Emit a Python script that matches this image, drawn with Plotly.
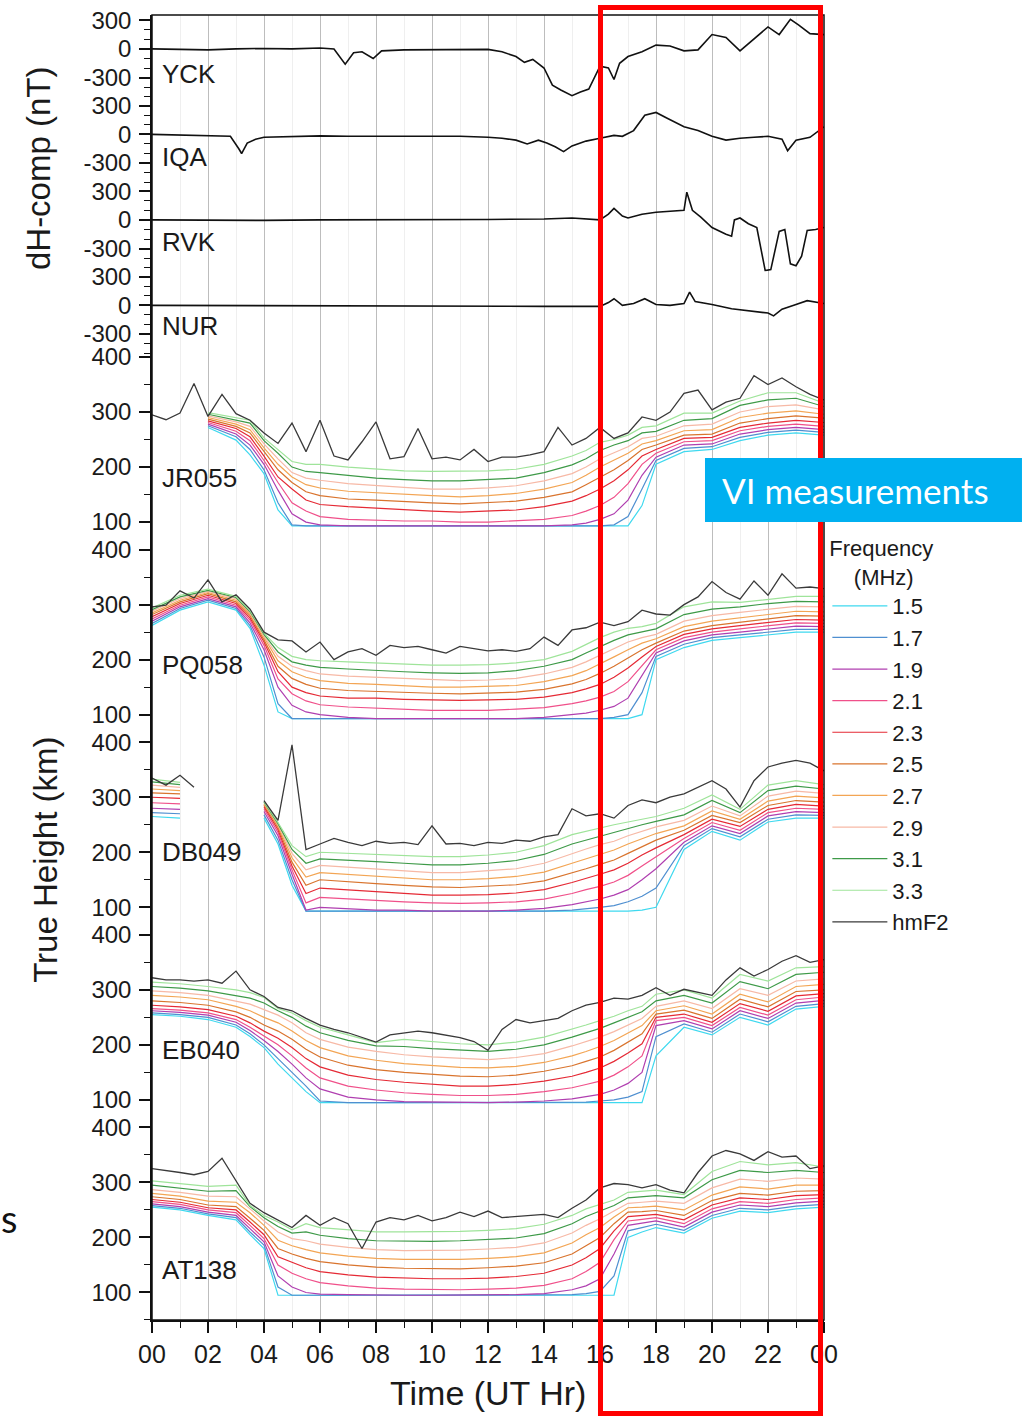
import plotly.graph_objects as go

FONT = "Liberation Sans, Arial, sans-serif"

# ---------------- time axes ----------------
IONO_HOURS = [0, 1, 2, 3, 3.5, 4, 4.5, 5, 5.5, 6, 7, 8, 9, 10, 11, 12, 13, 14, 15,
              15.5, 16, 16.5, 17, 17.5, 18, 19, 20, 21, 22, 23, 24]
HMF2_HOURS = [0, 0.5, 1, 1.5, 2, 2.5, 3, 3.5, 4, 4.5, 5, 5.5, 6, 6.5, 7, 7.5, 8, 8.5,
              9, 9.5, 10, 10.5, 11, 11.5, 12, 12.5, 13, 13.5, 14, 14.5, 15, 15.5, 16,
              16.5, 17, 17.5, 18, 18.5, 19, 19.5, 20, 20.5, 21, 21.5, 22, 22.5, 23,
              23.5, 24]
X_TICK_VALUES = [0, 2, 4, 6, 8, 10, 12, 14, 16, 18, 20, 22, 24]
X_TICK_LABELS = ["00", "02", "04", "06", "08", "10", "12", "14", "16", "18", "20", "22", "00"]
X_MINOR_TICKS = [1, 3, 5, 7, 9, 11, 13, 15, 17, 19, 21, 23]

MAG_TICK_VALUES = [-300, 0, 300]
MAG_TICK_LABELS = ["-300", "0", "300"]
MAG_MINOR_TICKS = [-500, -400, -200, -100, 100, 200]
HEIGHT_TICK_VALUES = [100, 200, 300, 400]
HEIGHT_TICK_LABELS = ["100", "200", "300", "400"]
HEIGHT_MINOR_TICKS = [50, 150, 250, 350]

FREQ_LABELS = ["1.5", "1.7", "1.9", "2.1", "2.3", "2.5", "2.7", "2.9", "3.1", "3.3"]
FREQ_COLORS = ["#3fd9ef", "#4f8fd0", "#b03fb0", "#f0508a", "#e52a35",
               "#d9742e", "#f3a554", "#f7b9a6", "#3e9a48", "#9fe49a"]

# ---------------- magnetometer dH (nT) ----------------
YCK_HOURS = [0, 1, 2, 3, 4, 5, 6, 6.5, 6.9, 7.2, 7.5, 7.9, 8.2, 9, 10, 11, 12, 12.5, 13,
             13.3, 13.6, 14, 14.3, 14.6, 15, 15.3, 15.6, 16, 16.3, 16.5, 16.7, 17, 17.5,
             18, 18.5, 19, 19.5, 20, 20.5, 21, 21.5, 22, 22.4, 22.8, 23.1, 23.5, 24]
YCK_DH = [0, -5, -10, 0, 5, 0, 10, 0, -160, -40, -30, -100, -20, -10, -10, -5, -5, -30,
          -80, -140, -110, -200, -380, -430, -490, -450, -420, -180, -200, -320, -150,
          -80, -30, 40, 30, -20, -10, 150, 120, -20, 100, 230, 150, 310, 250, 160, 150]

IQA_HOURS = [0, 1, 2, 2.8, 3.1, 3.2, 3.4, 3.7, 4, 5, 6, 7, 8, 9, 10, 11, 12, 12.5, 13,
             13.4, 13.8, 14.1, 14.4, 14.7, 15, 15.5, 16, 16.5, 16.8, 17.2, 17.6, 18, 18.4,
             19, 19.5, 20, 20.5, 21, 21.5, 22, 22.5, 22.7, 23, 23.5, 24]
IQA_DH = [0, -5, -10, -20, -150, -200, -90, -50, -30, -20, -15, -20, -20, -25, -20, -20,
          -30, -40, -60, -100, -60, -90, -130, -180, -120, -70, -40, -10, -20, 40, 200,
          230, 170, 80, 40, -20, -60, -40, -30, -20, -50, -170, -60, -30, 80]

RVK_HOURS = [0, 2, 4, 6, 8, 10, 12, 14, 15, 16, 16.3, 16.5, 16.8, 17, 17.5, 18, 18.5, 19,
             19.1, 19.3, 19.6, 20, 20.5, 20.7, 20.8, 21, 21.3, 21.6, 21.9, 22.1, 22.4,
             22.6, 22.8, 23, 23.2, 23.4, 23.7, 24]
RVK_DH = [0, -5, -5, 0, 0, 0, 5, 10, 20, 0, 60, 120, 40, 20, 60, 80, 90, 100, 290, 100,
          30, -80, -150, -170, 0, 20, -40, -80, -530, -520, -120, -100, -460, -480, -380,
          -110, -100, -80]

NUR_HOURS = [0, 4, 8, 12, 14, 16, 16.3, 16.5, 16.8, 17.2, 17.6, 18, 18.5, 19, 19.2, 19.4,
             20, 20.7, 21.5, 22, 22.2, 22.5, 23, 23.4, 24]
NUR_DH = [0, -5, -10, -10, -10, -10, 30, 70, 0, 20, 70, 10, 0, 20, 140, 40, 10, -35, -60,
          -80, -110, -40, 10, 50, 20]

# ---------------- ionosonde true heights (km) ----------------
# one row per entry of IONO_HOURS, values for 1.5 ... 3.3 MHz (None = no data)
JR055_PROFILES = [
    None,
    None,
    [272, 275, 278, 281, 284, 287, 290, 293, 296, 299],
    [249, 255, 260, 265, 270, 274, 278, 282, 286, 290],
    [222, 232, 240, 248, 255, 262, 268, 274, 280, 285],
    [188, 195, 205, 212, 220, 228, 235, 242, 248, 253],
    [122, 135, 158, 172, 182, 195, 205, 215, 225, 232],
    [93, 95, 115, 135, 160, 172, 182, 190, 200, 210],
    [93, 93, 100, 120, 140, 155, 168, 180, 192, 205],
    [93, 93, 95, 110, 132, 148, 162, 176, 190, 205],
    [93, 93, 93, 105, 128, 142, 156, 170, 185, 200],
    [93, 93, 93, 103, 125, 140, 153, 166, 180, 196],
    [93, 93, 93, 102, 122, 137, 150, 163, 177, 193],
    [93, 93, 93, 102, 120, 135, 148, 160, 175, 192],
    [93, 93, 93, 100, 118, 133, 146, 160, 175, 192],
    [93, 93, 93, 100, 120, 135, 148, 162, 177, 193],
    [93, 93, 93, 102, 122, 138, 152, 166, 180, 196],
    [93, 93, 93, 105, 128, 145, 160, 175, 190, 205],
    [93, 93, 95, 112, 138, 155, 172, 188, 204, 220],
    [93, 93, 98, 120, 148, 168, 185, 200, 215, 230],
    [93, 93, 105, 130, 160, 182, 200, 215, 230, 245],
    [93, 95, 115, 145, 175, 195, 212, 226, 240, 250],
    [93, 110, 140, 170, 195, 212, 225, 237, 248, 258],
    [130, 160, 185, 205, 220, 232, 242, 252, 262, 272],
    [205, 212, 218, 225, 232, 240, 248, 256, 265, 275],
    [228, 234, 240, 246, 252, 258, 266, 275, 285, 298],
    [232, 237, 242, 248, 254, 260, 268, 278, 288, 298],
    [248, 254, 260, 266, 272, 280, 290, 300, 312, 320],
    [258, 263, 268, 274, 280, 288, 298, 310, 322, 335],
    [262, 267, 272, 278, 285, 293, 302, 313, 325, 335],
    [258, 263, 268, 274, 281, 289, 296, 304, 310, 316],
]
JR055_HMF2 = [295, 286, 298, 352, 292, 332, 297, 285, 262, 243, 280, 228, 285, 220, 213,
              246, 282, 215, 219, 270, 215, 218, 213, 232, 210, 218, 218, 222, 228, 272,
              240, 252, 272, 252, 262, 291, 285, 300, 334, 340, 304, 318, 325, 366, 350,
              362, 346, 332, 322]

PQ058_PROFILES = [
    [262, 266, 270, 274, 278, 282, 285, 288, 291, 294],
    [290, 293, 296, 299, 302, 305, 308, 311, 314, 317],
    [305, 308, 311, 314, 317, 320, 322, 324, 326, 328],
    [290, 293, 296, 299, 302, 305, 308, 311, 313, 315],
    [257, 262, 267, 272, 276, 280, 283, 285, 287, 289],
    [190, 205, 218, 226, 232, 236, 240, 243, 246, 248],
    [105, 120, 150, 165, 178, 188, 198, 206, 214, 222],
    [93, 93, 117, 138, 150, 166, 178, 188, 196, 206],
    [93, 93, 105, 125, 140, 155, 168, 180, 190, 200],
    [93, 93, 100, 118, 134, 148, 162, 174, 186, 198],
    [93, 93, 95, 114, 130, 144, 157, 170, 183, 196],
    [93, 93, 93, 112, 130, 142, 155, 168, 180, 194],
    [93, 93, 93, 110, 128, 140, 152, 165, 178, 192],
    [93, 93, 93, 108, 127, 139, 150, 163, 176, 190],
    [93, 93, 93, 108, 126, 138, 150, 162, 175, 190],
    [93, 93, 93, 108, 127, 139, 151, 163, 176, 191],
    [93, 93, 93, 110, 128, 141, 153, 166, 180, 194],
    [93, 93, 95, 113, 132, 146, 160, 174, 188, 200],
    [93, 93, 100, 120, 140, 156, 171, 186, 200, 215],
    [93, 93, 103, 125, 147, 164, 180, 196, 212, 228],
    [93, 93, 108, 132, 155, 175, 192, 208, 224, 240],
    [93, 95, 115, 142, 168, 188, 205, 220, 235, 250],
    [93, 100, 130, 160, 185, 203, 218, 232, 245, 257],
    [100, 140, 170, 190, 205, 218, 230, 240, 250, 260],
    [200, 206, 212, 218, 224, 230, 238, 246, 256, 266],
    [222, 228, 234, 240, 246, 252, 260, 270, 282, 296],
    [235, 240, 245, 250, 256, 262, 270, 280, 292, 305],
    [240, 245, 250, 256, 262, 268, 276, 286, 296, 304],
    [245, 250, 256, 262, 268, 275, 283, 292, 302, 310],
    [250, 255, 261, 267, 273, 280, 288, 297, 306, 315],
    [250, 255, 260, 266, 272, 279, 287, 296, 305, 315],
]
PQ058_HMF2 = [296, 299, 325, 312, 345, 305, 318, 292, 250, 236, 234, 214, 232, 200, 214,
              220, 208, 226, 222, 224, 218, 212, 224, 220, 216, 218, 215, 220, 241, 226,
              254, 258, 268, 262, 269, 290, 283, 281, 300, 314, 342, 322, 310, 343, 317,
              356, 330, 332, 329]

DB049_PROFILES = [
    [265, 272, 280, 290, 300, 308, 315, 322, 328, 333],
    [262, 270, 278, 288, 298, 306, 312, 318, 323, 327],
    None,
    None,
    None,
    [262, 268, 274, 279, 283, 286, 288, 290, 291, 292],
    [215, 222, 230, 236, 241, 245, 248, 250, 252, 254],
    [140, 150, 160, 168, 175, 182, 190, 198, 205, 212],
    [93, 93, 95, 108, 125, 140, 155, 168, 180, 192],
    [93, 93, 100, 118, 135, 150, 163, 176, 188, 200],
    [93, 93, 98, 115, 132, 146, 160, 173, 186, 198],
    [93, 93, 95, 112, 128, 143, 156, 170, 183, 196],
    [93, 93, 95, 110, 125, 140, 153, 166, 180, 194],
    [93, 93, 93, 108, 122, 137, 150, 163, 177, 192],
    [93, 93, 93, 107, 122, 136, 150, 163, 177, 192],
    [93, 93, 93, 108, 123, 138, 152, 166, 180, 195],
    [93, 93, 95, 110, 126, 141, 156, 170, 185, 200],
    [93, 93, 98, 115, 132, 148, 164, 180, 196, 212],
    [93, 95, 105, 125, 145, 162, 180, 198, 215, 232],
    [93, 97, 110, 132, 152, 170, 188, 206, 222, 238],
    [93, 100, 115, 138, 160, 178, 196, 214, 230, 245],
    [93, 103, 122, 146, 168, 186, 204, 220, 236, 250],
    [93, 110, 132, 158, 180, 198, 215, 230, 243, 255],
    [95, 120, 150, 175, 195, 210, 225, 238, 250, 260],
    [100, 135, 170, 192, 208, 222, 234, 246, 256, 265],
    [205, 212, 218, 225, 232, 240, 248, 258, 268, 280],
    [238, 243, 248, 254, 260, 267, 275, 284, 294, 304],
    [222, 228, 234, 240, 247, 254, 260, 266, 272, 278],
    [255, 260, 266, 272, 278, 285, 293, 302, 312, 322],
    [262, 268, 274, 280, 287, 294, 302, 311, 320, 330],
    [262, 267, 272, 278, 284, 291, 299, 307, 315, 323],
]
DB049_HMF2 = [335, 322, 340, 318, None, None, None, None, 294, 258, 395, 205, 215, 225,
              218, 212, 220, 216, 218, 214, 248, 215, 216, 212, 218, 216, 222, 220, 228,
              232, 279, 266, 270, 262, 285, 295, 290, 300, 306, 318, 330, 315, 282, 330,
              355, 362, 367, 362, 348]

EB040_PROFILES = [
    [255, 258, 262, 266, 272, 280, 290, 298, 306, 314],
    [252, 255, 259, 263, 269, 277, 287, 295, 303, 311],
    [246, 250, 254, 258, 264, 272, 282, 290, 298, 306],
    [232, 236, 241, 246, 252, 260, 270, 280, 290, 300],
    [215, 220, 226, 232, 240, 250, 262, 274, 285, 295],
    [195, 200, 208, 216, 225, 236, 250, 264, 276, 286],
    [165, 175, 188, 200, 212, 225, 240, 254, 262, 266],
    [140, 150, 165, 180, 195, 210, 225, 240, 250, 258],
    [115, 125, 140, 158, 175, 192, 208, 222, 234, 244],
    [95, 98, 120, 140, 160, 178, 195, 210, 222, 232],
    [95, 95, 105, 125, 145, 163, 180, 196, 208, 218],
    [95, 95, 100, 118, 137, 155, 172, 188, 198, 204],
    [95, 95, 97, 113, 132, 150, 166, 182, 197, 210],
    [95, 95, 96, 110, 128, 146, 162, 178, 193, 206],
    [95, 95, 95, 108, 125, 143, 159, 175, 190, 202],
    [95, 95, 95, 108, 125, 142, 158, 173, 188, 200],
    [95, 95, 96, 110, 128, 145, 161, 177, 192, 205],
    [95, 95, 98, 115, 134, 152, 168, 184, 200, 214],
    [95, 95, 102, 122, 143, 162, 180, 198, 214, 228],
    [95, 96, 106, 128, 150, 170, 188, 206, 222, 236],
    [95, 98, 110, 134, 158, 178, 197, 214, 230, 244],
    [95, 100, 118, 145, 170, 190, 208, 224, 240, 252],
    [95, 105, 130, 160, 185, 205, 222, 236, 250, 262],
    [95, 115, 150, 180, 202, 220, 235, 248, 260, 270],
    [180, 215, 235, 244, 250, 256, 262, 270, 280, 292],
    [232, 238, 244, 250, 256, 263, 271, 280, 290, 300],
    [218, 223, 229, 235, 241, 248, 256, 266, 276, 285],
    [250, 256, 262, 268, 275, 283, 292, 302, 315, 328],
    [236, 242, 248, 254, 261, 269, 278, 290, 302, 316],
    [265, 270, 276, 282, 289, 297, 306, 316, 328, 340],
    [270, 275, 281, 287, 293, 300, 310, 320, 332, 342],
]
EB040_HMF2 = [322, 318, 318, 316, 318, 312, 334, 300, 288, 268, 262, 248, 236, 228, 222,
              214, 205, 218, 222, 225, 222, 218, 213, 206, 190, 228, 246, 240, 244, 248,
              262, 272, 277, 285, 283, 290, 304, 290, 301, 295, 290, 318, 340, 325, 337,
              352, 362, 350, 355]

AT138_PROFILES = [
    [255, 258, 261, 265, 269, 274, 280, 287, 295, 303],
    [250, 253, 256, 260, 264, 269, 275, 282, 290, 298],
    [240, 243, 246, 250, 254, 259, 266, 275, 284, 293],
    [232, 236, 240, 245, 250, 256, 264, 274, 285, 295],
    [205, 210, 216, 222, 228, 235, 245, 252, 256, 258],
    [180, 186, 192, 198, 205, 213, 222, 230, 236, 240],
    [95, 110, 130, 150, 165, 180, 195, 210, 220, 228],
    [95, 95, 110, 135, 155, 170, 185, 198, 208, 214],
    [95, 95, 100, 125, 145, 162, 178, 194, 210, 225],
    [95, 95, 97, 118, 138, 156, 172, 188, 204, 218],
    [95, 95, 96, 112, 132, 150, 166, 182, 198, 214],
    [95, 95, 95, 108, 128, 146, 162, 178, 194, 210],
    [95, 95, 95, 106, 126, 144, 160, 176, 193, 210],
    [95, 95, 95, 105, 125, 143, 160, 176, 193, 210],
    [95, 95, 95, 105, 125, 143, 160, 177, 194, 211],
    [95, 95, 95, 106, 126, 145, 162, 179, 196, 213],
    [95, 95, 96, 108, 129, 148, 165, 182, 199, 216],
    [95, 95, 98, 113, 135, 154, 172, 190, 207, 224],
    [95, 96, 105, 125, 150, 170, 190, 208, 225, 240],
    [95, 98, 112, 138, 163, 185, 205, 222, 238, 252],
    [95, 102, 125, 155, 180, 200, 218, 234, 248, 260],
    [95, 130, 170, 196, 212, 225, 237, 248, 258, 268],
    [200, 212, 222, 230, 238, 246, 254, 262, 272, 282],
    [210, 218, 226, 233, 240, 247, 255, 264, 274, 284],
    [218, 224, 230, 236, 242, 249, 257, 266, 276, 286],
    [208, 213, 219, 225, 232, 240, 250, 262, 272, 278],
    [235, 240, 246, 252, 259, 267, 277, 290, 305, 320],
    [248, 253, 259, 265, 272, 280, 292, 306, 322, 338],
    [245, 250, 256, 262, 269, 277, 288, 302, 318, 332],
    [252, 257, 263, 269, 276, 284, 295, 308, 322, 336],
    [255, 260, 266, 272, 278, 285, 295, 306, 318, 328],
]
AT138_HMF2 = [325, 322, 318, 314, 320, 344, 302, 262, 245, 232, 218, 240, 222, 236, 225,
              180, 228, 236, 232, 240, 230, 236, 246, 238, 248, 236, 238, 240, 242, 236,
              253, 268, 290, 298, 296, 290, 296, 286, 281, 318, 348, 358, 352, 340, 356,
              346, 348, 325, 330]

# ---------------- figure ----------------
fig = go.Figure()

mag_panels = [("YCK", YCK_HOURS, YCK_DH, "y9"), ("IQA", IQA_HOURS, IQA_DH, "y8"),
              ("RVK", RVK_HOURS, RVK_DH, "y7"), ("NUR", NUR_HOURS, NUR_DH, "y6")]
iono_panels = [("JR055", JR055_PROFILES, JR055_HMF2, "y5"),
               ("PQ058", PQ058_PROFILES, PQ058_HMF2, "y4"),
               ("DB049", DB049_PROFILES, DB049_HMF2, "y3"),
               ("EB040", EB040_PROFILES, EB040_HMF2, "y2"),
               ("AT138", AT138_PROFILES, AT138_HMF2, "y")]

for name, profiles, hmf2, ya in iono_panels:
    first = name == "JR055"
    for k, flabel in enumerate(FREQ_LABELS):
        ys = [None if row is None else row[k] for row in profiles]
        fig.add_trace(go.Scatter(x=IONO_HOURS, y=ys, mode="lines", name=flabel,
                                 line=dict(color=FREQ_COLORS[k], width=1.2),
                                 showlegend=first, xaxis="x", yaxis=ya,
                                 connectgaps=False, hoverinfo="skip"))
    fig.add_trace(go.Scatter(x=HMF2_HOURS, y=hmf2, mode="lines", name="hmF2",
                             line=dict(color="#3a3a3a", width=1.3),
                             showlegend=first, xaxis="x", yaxis=ya,
                             connectgaps=False, hoverinfo="skip"))

for name, hrs, dh, ya in mag_panels:
    fig.add_trace(go.Scatter(x=hrs, y=dh, mode="lines", name=name,
                             line=dict(color="#111111", width=1.6),
                             showlegend=False, xaxis="x", yaxis=ya, hoverinfo="skip"))


def y_axis(domain, rng, tickvals, ticktext, minorvals):
    return dict(domain=domain, range=rng, anchor="x", showline=True, linecolor="#111",
                linewidth=1.5, ticks="outside", ticklen=11, tickwidth=1.5,
                tickcolor="#111", tickmode="array", tickvals=tickvals, ticktext=ticktext,
                minor=dict(tickmode="array", tickvals=minorvals, ticks="outside",
                           ticklen=6, tickwidth=1.3, tickcolor="#111"),
                showgrid=False, zeroline=False, ticklabelstandoff=3, automargin=False,
                ticklabeloverflow="allow",
                tickfont=dict(family=FONT, size=24, color="#1a1a1a"), fixedrange=True)


iono_bounds = [0.0, 0.14759, 0.29517, 0.44276, 0.59034, 0.73793]
mag_bounds = [0.73793, 0.80345, 0.86897, 0.93448, 1.0]
layout_axes = {}
names = ["yaxis", "yaxis2", "yaxis3", "yaxis4", "yaxis5"]
for i, nm in enumerate(names):
    layout_axes[nm] = y_axis([iono_bounds[i], iono_bounds[i + 1]], [50, 400],
                             HEIGHT_TICK_VALUES, HEIGHT_TICK_LABELS, HEIGHT_MINOR_TICKS)
mnames = ["yaxis6", "yaxis7", "yaxis8", "yaxis9"]
for i, nm in enumerate(mnames):
    layout_axes[nm] = y_axis([mag_bounds[i], mag_bounds[i + 1]], [-540, 355],
                             MAG_TICK_VALUES, MAG_TICK_LABELS, MAG_MINOR_TICKS)

fig.update_layout(
    width=1024, height=1418,
    margin=dict(l=152, r=200, t=15, b=98, autoexpand=False),
    paper_bgcolor="white", plot_bgcolor="white",
    font=dict(family=FONT, color="#1a1a1a"),
    xaxis=dict(domain=[0, 1], range=[0, 24], anchor="y", showline=True, linecolor="#111",
               linewidth=1.5, ticks="outside", ticklen=11, tickwidth=1.5, tickcolor="#111",
               tickmode="array", tickvals=X_TICK_VALUES, ticktext=X_TICK_LABELS,
               showgrid=True, gridcolor="#bdbdbd", gridwidth=1, zeroline=False,
               automargin=False, ticklabeloverflow="allow",
               minor=dict(tickmode="array", tickvals=X_MINOR_TICKS, ticks="outside",
                          ticklen=6, tickwidth=1.3, tickcolor="#111", showgrid=True,
                          gridcolor="#efefef", gridwidth=1),
               tickfont=dict(family=FONT, size=25, color="#1a1a1a"), fixedrange=True),
    showlegend=True,
    legend=dict(x=1.005, y=0.607, xanchor="left", yanchor="top",
                bgcolor="rgba(0,0,0,0)", borderwidth=0, itemwidth=55,
                font=dict(family=FONT, size=22, color="#1a1a1a"),
                title=dict(text="Frequency<br>\u00a0\u00a0\u00a0\u00a0(MHz)", side="top",
                           font=dict(family=FONT, size=22, color="#1a1a1a"))),
    **layout_axes,
)

# station labels
label_pos = [("YCK", "y9", -260), ("IQA", "y8", -240), ("RVK", "y7", -230), ("NUR", "y6", -220),
             ("JR055", "y5", 180), ("PQ058", "y4", 190), ("DB049", "y3", 200),
             ("EB040", "y2", 190), ("AT138", "y", 140)]
for text, ya, yv in label_pos:
    fig.add_annotation(text=text, x=0.3, y=yv, xref="x", yref=ya, xanchor="left",
                       yanchor="middle", showarrow=False,
                       font=dict(family=FONT, size=26, color="#1a1a1a"))

# axis titles
fig.add_annotation(text="dH-comp (nT)", x=-0.168, y=0.8828, xref="paper", yref="paper",
                   textangle=-90, showarrow=False, xanchor="center", yanchor="middle",
                   font=dict(family=FONT, size=33, color="#1a1a1a"))
fig.add_annotation(text="True Height (km)", x=-0.158, y=0.3525, xref="paper", yref="paper",
                   textangle=-90, showarrow=False, xanchor="center", yanchor="middle",
                   font=dict(family=FONT, size=33, color="#1a1a1a"))
fig.add_annotation(text="Time (UT Hr)", x=0.5, y=-0.0559, xref="paper", yref="paper",
                   showarrow=False, xanchor="center", yanchor="middle",
                   font=dict(family=FONT, size=34, color="#1a1a1a"))

# frame
fig.add_shape(type="rect", xref="paper", yref="paper", x0=0, x1=1, y0=0, y1=1,
              line=dict(color="#111", width=1.5), layer="above")
# red highlight rectangle
fig.add_shape(type="rect", xref="paper", yref="paper", x0=0.6674, x1=0.9948,
              y0=-0.0716, y1=1.00575, line=dict(color="#ff0000", width=5), layer="above")
# blue label box
fig.add_shape(type="rect", xref="paper", yref="paper", x0=0.8229, x1=1.2946,
              y0=0.6115, y1=0.6605, fillcolor="#00b0f0", line=dict(width=0), layer="above")
fig.add_annotation(text="VI measurements", x=1.0476, y=0.636, xref="paper", yref="paper",
                   showarrow=False, xanchor="center", yanchor="middle",
                   font=dict(family="Lato, Open Sans, sans-serif", size=35, color="white"))
fig.add_annotation(text="s", x=-0.2135, y=0.078, xref="paper", yref="paper",
                   showarrow=False, xanchor="center", yanchor="middle",
                   font=dict(family="Lato, Open Sans, sans-serif", size=38, color="#111"))

# remove the browser's default 8 px page margin so the figure sits at the window origin
fig.write_html("out.html", config={"displayModeBar": False},
               post_script="document.body.style.margin='0px';document.body.style.overflow='hidden';")
